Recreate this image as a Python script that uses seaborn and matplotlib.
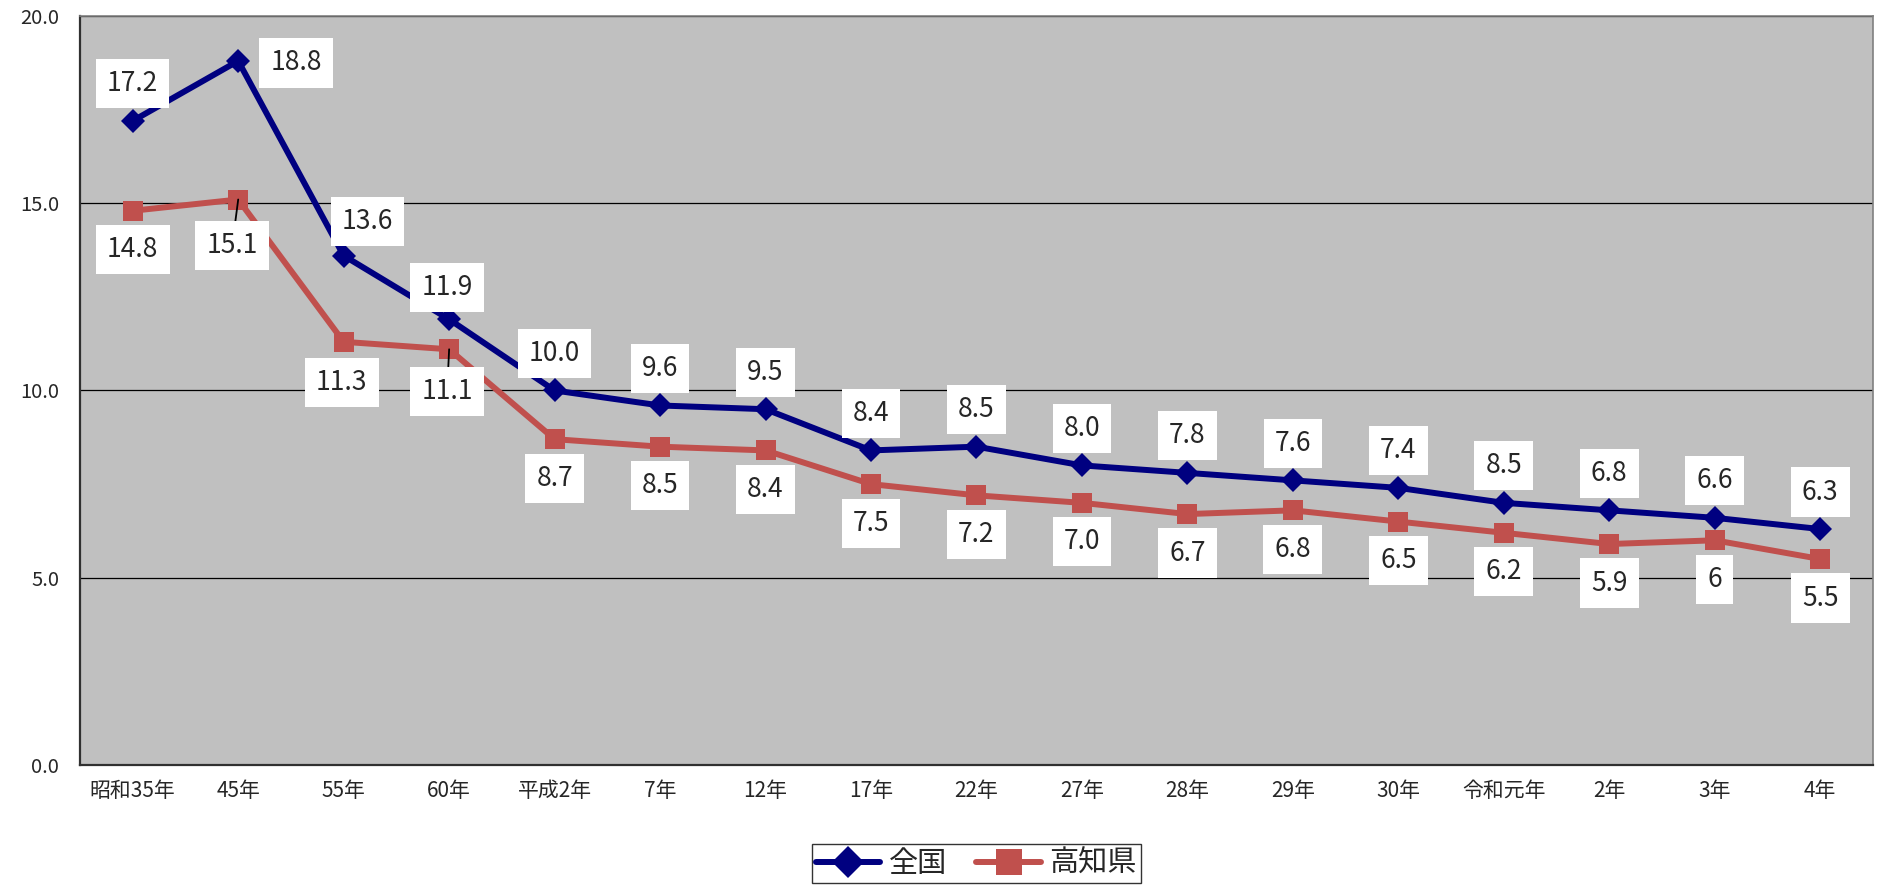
import matplotlib
matplotlib.use("Agg")
import matplotlib.pyplot as plt
import seaborn as sns
import numpy as np
import pandas as pd
from matplotlib.lines import Line2D

# chart data
years = ["昭和35年", "45年", "55年", "60年", "平成2年", "7年", "12年", "17年", "22年",
         "27年", "28年", "29年", "30年", "令和元年", "2年", "3年", "4年"]
national = [17.2, 18.8, 13.6, 11.9, 10.0, 9.6, 9.5, 8.4, 8.5, 8.0, 7.8, 7.6, 7.4, 7.0, 6.8, 6.6, 6.3]
national_labels = ["17.2", "18.8", "13.6", "11.9", "10.0", "9.6", "9.5", "8.4", "8.5", "8.0",
                   "7.8", "7.6", "7.4", "8.5", "6.8", "6.6", "6.3"]
kochi = [14.8, 15.1, 11.3, 11.1, 8.7, 8.5, 8.4, 7.5, 7.2, 7.0, 6.7, 6.8, 6.5, 6.2, 5.9, 6.0, 5.5]
kochi_labels = ["14.8", "15.1", "11.3", "11.1", "8.7", "8.5", "8.4", "7.5", "7.2", "7.0",
                "6.7", "6.8", "6.5", "6.2", "5.9", "6", "5.5"]

NAVY = "#000080"
RED = "#C0504D"

sns.set_style("white")
plt.rcParams["font.family"] = ["Noto Sans CJK JP", "DejaVu Sans"]

pos = np.arange(len(years))
df_nat = pd.DataFrame({"pos": pos, "value": national})
df_koc = pd.DataFrame({"pos": pos, "value": kochi})

fig = plt.figure(figsize=(18.78, 8.89), dpi=100)
ax = fig.add_axes([0.0426, 0.1395, 0.9547, 0.8425])
ax.set_facecolor("#C0C0C0")

sns.lineplot(data=df_nat, x="pos", y="value", ax=ax, color=NAVY, lw=4.3,
             marker="D", markersize=12, markeredgewidth=0, zorder=4)
sns.lineplot(data=df_koc, x="pos", y="value", ax=ax, color=RED, lw=4.3,
             marker="s", markersize=15, markeredgewidth=0, zorder=3)

ax.set_xlim(-0.5, len(years) - 0.5)
ax.set_ylim(0, 20)
ax.set_yticks([0, 5, 10, 15, 20])
ax.set_yticklabels([f"{v:.1f}" for v in [0, 5, 10, 15, 20]], fontsize=14.5)
ax.set_xticks(pos)
ax.set_xticklabels(years, fontsize=15)
ax.set_xticks(np.arange(0.5, len(years) - 0.5), minor=True)
ax.tick_params(axis="x", which="major", length=0, pad=11)
ax.tick_params(axis="x", which="minor", length=6, direction="in", width=1.2, color="#404040")
ax.tick_params(axis="y", length=0, pad=15)
ax.set_xlabel("")
ax.set_ylabel("")
ax.grid(axis="y", color="black", lw=0.9)
ax.set_axisbelow(True)

for side in ["left", "bottom"]:
    ax.spines[side].set_color("#303030")
    ax.spines[side].set_linewidth(1.6)
for side in ["top", "right"]:
    ax.spines[side].set_color("#808080")
    ax.spines[side].set_linewidth(1.2)

box = dict(boxstyle="square,pad=0.42", fc="white", ec="none")

# national labels (above), some shifted
nat_off = {1: (58, 2), 2: (24, -34), 3: (-2, -32)}
for i, (v, t) in enumerate(zip(national, national_labels)):
    dx, dy = nat_off.get(i, (0, -37))
    ax.annotate(t, (i, v), xytext=(dx, -dy), textcoords="offset pixels",
                ha="center", va="center", fontsize=19, bbox=box, zorder=6)

# kochi labels (below)
koc_off = {1: (-6, 46), 2: (-2, 41), 3: (-2, 42)}
leader = {1, 3}
for i, (v, t) in enumerate(zip(kochi, kochi_labels)):
    dx, dy = koc_off.get(i, (0, 39))
    kw = {}
    if i in leader:
        kw["arrowprops"] = dict(arrowstyle="-", color="black", lw=1.3, shrinkA=0, shrinkB=0)
    ax.annotate(t, (i, v), xytext=(dx, -dy), textcoords="offset pixels",
                ha="center", va="center", fontsize=19, bbox=box, zorder=5, **kw)

handles = [
    Line2D([], [], color=NAVY, lw=4.3, marker="D", markersize=16, markeredgewidth=0),
    Line2D([], [], color=RED, lw=4.3, marker="s", markersize=19, markeredgewidth=0),
]
leg = ax.legend(handles, ["全国", "高知県"], loc="upper center", bbox_to_anchor=(0.5, -0.106),
                ncol=2, fontsize=21, frameon=True, fancybox=False, handlelength=2.2,
                columnspacing=1.0, handletextpad=0.3, borderpad=0.15, borderaxespad=0)
leg.get_frame().set_edgecolor("black")
leg.get_frame().set_linewidth(1.0)

fig.savefig("out.png", dpi=100, facecolor="white")
